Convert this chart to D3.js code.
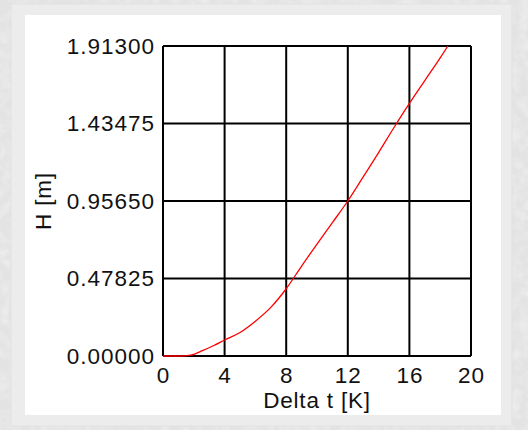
<!doctype html>
<html>
<head>
<meta charset="utf-8" />
<title>H vs Delta t</title>
<style>
  html,body{margin:0;padding:0;background:#e6e6e6}
  svg{display:block}
  .tick text{font-family:"Liberation Sans", Arial, sans-serif;font-size:22.5px;letter-spacing:1px;fill:#111}
  .lbl{font-family:"Liberation Sans", Arial, sans-serif;font-size:22.5px;letter-spacing:0.8px;fill:#111}
</style>
<script src="https://cdn.jsdelivr.net/npm/d3@7"></script>
</head>
<body>
<svg id="chart" width="528" height="430"></svg>
<script>
// ---- data ----
const deltaT = [0, 1, 1.8, 2.6, 3.3, 4, 5, 6, 7, 8, 9, 10, 11, 12, 13, 14, 15, 16, 17, 18, 18.5];
const heightH = [0, 0, 0.006, 0.035, 0.065, 0.099, 0.145, 0.215, 0.30, 0.415, 0.555, 0.69, 0.823, 0.9565, 1.105, 1.255, 1.41, 1.559, 1.70, 1.84, 1.913];
const xTicks = [0, 4, 8, 12, 16, 20];
const yTicks = [0, 0.47825, 0.9565, 1.43475, 1.913];

const W = 528, H = 430;
const plot = {left: 163, right: 471, top: 46, bottom: 356};

const svg = d3.select('#chart');

/* marble-ish backdrop */
const defs = svg.append('defs');
const f = defs.append('filter').attr('id', 'marble')
  .attr('x', 0).attr('y', 0).attr('width', '100%').attr('height', '100%');
f.append('feTurbulence').attr('type', 'fractalNoise')
  .attr('baseFrequency', 0.1).attr('numOctaves', 3).attr('seed', 4);
f.append('feColorMatrix').attr('type', 'matrix')
  .attr('values', '0 0 0 0 1  0 0 0 0 1  0 0 0 0 1  0 0 0 1.2 -0.45');

svg.append('rect').attr('width', W).attr('height', H).attr('fill', '#e3e3e3');
svg.append('rect').attr('width', W).attr('height', H).attr('filter', 'url(#marble)').attr('opacity', 0.6);

/* panel: grey frame + white face */
svg.append('rect').attr('x', 11).attr('y', 4).attr('width', 501).attr('height', 422)
  .attr('fill', '#ececec').attr('stroke', '#e2e2e2');
svg.append('rect').attr('x', 25).attr('y', 15).attr('width', 476).attr('height', 400)
  .attr('fill', '#fff');

// scales
const x = d3.scaleLinear().domain([0, 20]).range([plot.left, plot.right]);
const y = d3.scaleLinear().domain([0, 1.913]).range([plot.bottom, plot.top]);

// grid
const g = svg.append('g');
g.selectAll('.vg').data(xTicks).join('line')
  .attr('x1', d => x(d)).attr('x2', d => x(d))
  .attr('y1', plot.top).attr('y2', plot.bottom)
  .attr('stroke', '#000').attr('stroke-width', 2);
g.selectAll('.hg').data(yTicks).join('line')
  .attr('x1', plot.left).attr('x2', plot.right)
  .attr('y1', d => y(d)).attr('y2', d => y(d))
  .attr('stroke', '#000').attr('stroke-width', 2);

// axes (labels only)
const xAxis = d3.axisBottom(x).tickValues(xTicks).tickSize(0).tickPadding(11)
  .tickFormat(d3.format('d'));
svg.append('g').attr('transform', `translate(0,${plot.bottom})`).call(xAxis)
  .call(s => s.select('.domain').remove());

const yAxis = d3.axisLeft(y).tickValues(yTicks).tickSize(0).tickPadding(8)
  .tickFormat(d3.format('.5f'));
svg.append('g').attr('transform', `translate(${plot.left},0)`).call(yAxis)
  .call(s => s.select('.domain').remove());
svg.selectAll('.tick text').attr('font-family', null).attr('font-size', null);

// curve
svg.append('path').datum(deltaT.map((t, i) => [t, heightH[i]]))
  .attr('fill', 'none').attr('stroke', '#ff0000').attr('stroke-width', 1.3)
  .attr('d', d3.line().x(d => x(d[0])).y(d => y(d[1])).curve(d3.curveMonotoneX));

// axis titles
svg.append('text').attr('class', 'lbl')
  .attr('x', (plot.left + plot.right) / 2).attr('y', 408)
  .attr('text-anchor', 'middle').text('Delta t [K]');
svg.append('text').attr('class', 'lbl')
  .attr('transform', `translate(51,${(plot.top + plot.bottom) / 2}) rotate(-90)`)
  .attr('text-anchor', 'middle').text('H [m]');
</script>
</body>
</html>
